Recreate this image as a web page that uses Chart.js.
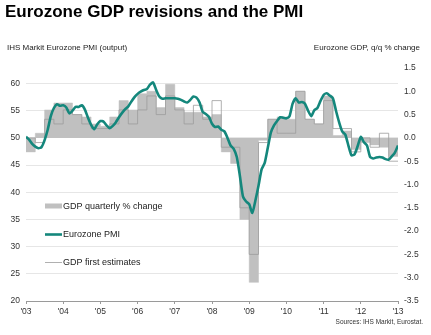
<!DOCTYPE html>
<html>
<head>
<meta charset="utf-8">
<script src="https://cdn.jsdelivr.net/npm/chart.js@4.4.0/dist/chart.umd.min.js"></script>
<style>
  body { margin: 0; background: #fff; font-family: "Liberation Sans", Arial, sans-serif; }
  #wrap { position: relative; width: 431px; height: 335px; overflow: hidden; }
  #title { position: absolute; left: 5px; top: 3px; font-size: 17px; line-height: 17px; font-weight: bold; color: #000; white-space: nowrap; }
  .axt { position: absolute; top: 44px; font-size: 8px; line-height: 8px; color: #222; white-space: nowrap; }
  #src { position: absolute; right: 8px; top: 318px; font-size: 6.5px; line-height: 7px; color: #333; white-space: nowrap; }
  canvas { position: absolute; left: 0; top: 0; }
</style>
</head>
<body>
<div id="wrap">
  <canvas id="gdpChart" width="431" height="335"></canvas>
  <div id="title">Eurozone GDP revisions and the PMI</div>
  <div class="axt" style="left:7px">IHS Markit Eurozone PMI (output)</div>
  <div class="axt" style="right:11px">Eurozone GDP, q/q % change</div>
  <div id="src">Sources: IHS Markit, Eurostat.</div>
</div>
<script>
const years = [2003, 2004, 2005, 2006, 2007, 2008, 2009, 2010, 2011, 2012, 2013];
const yearLabels = ["'03", "'04", "'05", "'06", "'07", "'08", "'09", "'10", "'11", "'12", "'13"];
const leftTicks = [20, 25, 30, 35, 40, 45, 50, 55, 60];
const rightTicks = [-3.5, -3.0, -2.5, -2.0, -1.5, -1.0, -0.5, 0.0, 0.5, 1.0, 1.5];

// monthly PMI, Jan 2003 - Jan 2013
const pmi = [
  50.2, 49.7, 48.9, 48.4, 48.1, 48.3, 49.6, 51.5, 54.0, 55.5, 56.2, 55.9,
  56.0, 55.6, 54.5, 55.0, 55.7, 55.7, 56.0, 55.2, 53.7, 52.4, 51.6, 52.5,
  53.1, 53.0, 52.3, 51.8, 52.2, 52.9, 53.8, 54.6, 55.3, 55.8, 56.7, 57.5,
  58.1, 58.5, 58.8, 59.0, 59.8, 60.2, 58.8, 57.6, 57.2, 57.3, 57.3, 57.3,
  57.3, 57.2, 57.0, 56.7, 56.5, 57.0, 57.6, 57.4, 56.5, 54.8, 54.4, 53.9,
  52.6, 52.0, 52.1, 51.5, 51.2, 50.0, 48.6, 48.0, 46.5, 43.0, 39.2, 38.3,
  37.8, 36.2, 38.5, 41.2, 44.2, 45.4, 48.2, 51.0, 52.3, 53.1, 53.8, 53.7,
  53.6, 54.0, 56.3, 57.3, 56.5, 56.6, 56.3, 55.0, 54.0, 55.1, 55.5, 56.8,
  57.9, 58.2, 57.8, 57.3, 55.0, 52.9, 51.2, 50.6, 48.6, 46.8, 47.0, 48.5,
  50.2, 49.2, 48.6, 46.5, 46.2, 46.4, 46.5, 46.4, 46.1, 46.0, 46.6, 47.3,
  48.6
];

// quarterly GDP % change, Q1 2003 - Q4 2012
const gdpRevised = [
  -0.3, 0.1, 0.6, 0.75,
  0.75, 0.5, 0.45, 0.3,
  0.25, 0.45, 0.8, 0.6,
  0.95, 1.0, 0.65, 1.15,
  0.65, 0.55, 0.55, 0.45,
  0.5, -0.3, -0.55, -1.75,
  -3.1, -0.05, 0.4, 0.45,
  0.4, 1.0, 0.4, 0.3,
  0.9, 0.05, 0.15, -0.25,
  -0.1, -0.15, -0.2, -0.4
];
const gdpFirst = [
  0.0, -0.1, 0.4, 0.3,
  0.6, 0.5, 0.3, 0.2,
  0.2, 0.3, 0.6, 0.3,
  0.6, 0.9, 0.5, 0.9,
  0.6, 0.3, 0.7, 0.4,
  0.8, -0.2, -0.2, -1.5,
  -2.5, -0.1, 0.4, 0.1,
  0.1, 1.0, 0.4, 0.3,
  0.8, 0.2, 0.2, -0.3,
  0.0, -0.2, 0.1, -0.5
];

function quarterPoints(vals) {
  const pts = vals.map((v, i) => ({ x: 2003 + i * 0.25, y: v }));
  pts.push({ x: 2013, y: vals[vals.length - 1] });
  return pts;
}
const pmiPoints = pmi.map((v, i) => ({ x: 2003 + i / 12, y: v }));

// left axis 50 lines up with right axis 0
const rightMin = -3.5, rightMax = 1.5;
const ratio = 30 / 3.5;
const leftMin = 50 + rightMin * ratio;
const leftMax = 50 + rightMax * ratio;

const tickFont = { family: "'Liberation Sans', Arial, sans-serif", size: 8.5 };

const legendPlugin = {
  id: 'inLegend',
  afterDatasetsDraw(chart) {
    const ctx = chart.ctx;
    const items = [chart.data.datasets[2], chart.data.datasets[0], chart.data.datasets[1]];
    const ys = [206, 234.5, 262.5];
    ctx.save();
    ctx.font = "9px 'Liberation Sans', Arial, sans-serif";
    ctx.textBaseline = 'middle';
    items.forEach((ds, i) => {
      const y = ys[i];
      if (ds.fill) {
        ctx.fillStyle = ds.backgroundColor;
        ctx.fillRect(45, y - 2.5, 17, 5);
      } else {
        ctx.strokeStyle = ds.borderColor;
        ctx.lineWidth = ds.borderWidth;
        ctx.beginPath();
        ctx.moveTo(45, y);
        ctx.lineTo(62, y);
        ctx.stroke();
      }
      ctx.fillStyle = '#222';
      ctx.fillText(ds.label, 63, y + 0.5);
    });
    ctx.restore();
  }
};

const ctx = document.getElementById('gdpChart').getContext('2d');
const chart = new Chart(ctx, {
  type: 'line',
  data: {
    datasets: [{
      label: 'Eurozone PMI',
      data: pmiPoints,
      yAxisID: 'y',
      borderColor: '#14877c',
      borderWidth: 2.6,
      pointRadius: 0,
      tension: 0.2,
      fill: false,
      order: 0
    }, {
      label: 'GDP first estimates',
      data: quarterPoints(gdpFirst),
      yAxisID: 'y1',
      borderColor: '#9c9c9c',
      borderWidth: 0.8,
      pointRadius: 0,
      stepped: 'before',
      fill: false,
      order: 1
    }, {
      label: 'GDP quarterly % change',
      data: quarterPoints(gdpRevised),
      yAxisID: 'y1',
      borderColor: '#c0c0c0',
      backgroundColor: '#c0c0c0',
      borderWidth: 0.5,
      pointRadius: 0,
      stepped: 'before',
      fill: 'origin',
      order: 2
    }]
  },
  options: {
    responsive: false,
    animation: false,
    layout: { padding: { top: 68, left: 0, right: 0, bottom: 0 } },
    plugins: { legend: { display: false }, tooltip: { enabled: false } },
    scales: {
      x: {
        type: 'linear',
        min: 2003,
        max: 2013,
        afterBuildTicks: s => { s.ticks = years.map(v => ({ value: v })); },
        afterFit: s => { s.height = 34; },
        ticks: {
          font: tickFont,
          color: '#333',
          padding: 3,
          maxRotation: 0,
          callback: v => yearLabels[years.indexOf(v)]
        },
        grid: { drawOnChartArea: false, drawTicks: true, tickLength: 3, color: '#9a9a9a' },
        border: { color: '#9a9a9a' }
      },
      y: {
        position: 'left',
        min: leftMin,
        max: leftMax,
        afterBuildTicks: s => { s.ticks = leftTicks.map(v => ({ value: v })); },
        afterFit: s => { s.width = 26; },
        ticks: { font: tickFont, color: '#333', padding: 6 },
        grid: { color: '#e6e6e6', drawTicks: false },
        border: { display: false }
      },
      y1: {
        position: 'right',
        min: rightMin,
        max: rightMax,
        afterBuildTicks: s => { s.ticks = rightTicks.map(v => ({ value: v })); },
        afterFit: s => { s.width = 33; },
        ticks: { font: tickFont, color: '#333', padding: 6, callback: v => v.toFixed(1) },
        grid: { display: false, drawTicks: false },
        border: { display: false }
      }
    }
  },
  plugins: [legendPlugin]
});
</script>
</body>
</html>
